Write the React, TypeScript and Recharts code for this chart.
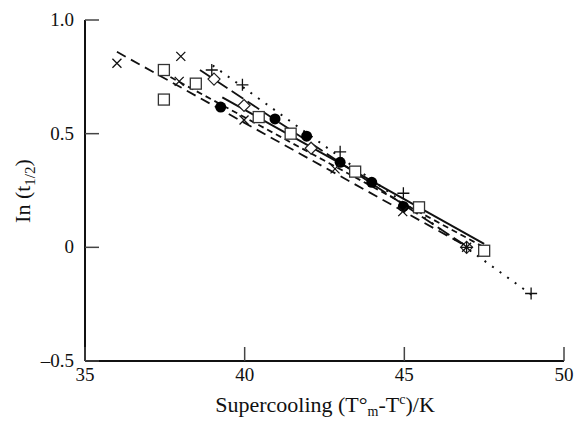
import React from 'react';
import { ComposedChart, Scatter, Line, XAxis, YAxis } from 'recharts';

const xTicks = [35, 40, 45, 50];
const yTicks = [-0.5, 0, 0.5, 1.0];

const crossPts = [
    { x: 36.0, y: 0.81 },
    { x: 38.0, y: 0.84 },
    { x: 37.95, y: 0.73 },
    { x: 39.98, y: 0.56 },
    { x: 42.83, y: 0.345 },
    { x: 44.95, y: 0.157 },
    { x: 46.95, y: 0.0 },
];
const plusPts = [
    { x: 38.97, y: 0.78 },
    { x: 39.93, y: 0.715 },
    { x: 42.99, y: 0.42 },
    { x: 44.97, y: 0.238 },
    { x: 46.95, y: 0.0 },
    { x: 48.97, y: -0.203 },
];
const diamondPts = [
    { x: 39.04, y: 0.74 },
    { x: 39.98, y: 0.624 },
    { x: 42.08, y: 0.436 },
    { x: 46.95, y: 0.0 },
];
const squarePts = [
    { x: 37.47, y: 0.78 },
    { x: 37.47, y: 0.65 },
    { x: 38.47, y: 0.72 },
    { x: 40.44, y: 0.573 },
    { x: 41.44, y: 0.5 },
    { x: 43.46, y: 0.333 },
    { x: 45.46, y: 0.176 },
    { x: 47.5, y: -0.015 },
];
const circlePts = [
    { x: 39.25, y: 0.617 },
    { x: 40.95, y: 0.565 },
    { x: 41.94, y: 0.489 },
    { x: 42.99, y: 0.374 },
    { x: 43.98, y: 0.286 },
    { x: 44.97, y: 0.18 },
];

// fitted lines, two end points each
const crossFit = [{ x: 36.0, y: 0.86 }, { x: 47.0, y: 0.0 }];
const plusFit = [{ x: 39.0, y: 0.8 }, { x: 49.0, y: -0.21 }];
const diamondFit = [{ x: 38.6, y: 0.78 }, { x: 47.0, y: 0.0 }];
const squareFit = [{ x: 37.4, y: 0.77 }, { x: 47.5, y: 0.0 }];
const circleFit = [{ x: 39.3, y: 0.66 }, { x: 47.5, y: 0.015 }];

const W = 575;
const H = 421;
const LEFT = 85;
const TOP = 20;
const BOTTOM = 361;
const FONT = 'Liberation Serif, Times New Roman, serif';

const fmtY = (v: number) => {
    if (v === 0) return '0';
    if (v < 0) return '\u2013' + Math.abs(v).toFixed(1);
    return v.toFixed(1);
};

const XTick = (props: any) => {
    const { x, payload } = props;
    return (
        <g>
            <line x1={x} x2={x} y1={BOTTOM} y2={BOTTOM - 14} stroke="#444" strokeWidth={1.5} />
            <text x={x} y={BOTTOM + 20} textAnchor="middle" style={{ fontFamily: FONT }} fontSize={19} fill="#111">
                {payload.value}
            </text>
        </g>
    );
};

const YTick = (props: any) => {
    const { y, payload } = props;
    return (
        <g>
            <line x1={LEFT} x2={LEFT + 14} y1={y} y2={y} stroke="#444" strokeWidth={1.5} />
            <text x={LEFT - 11} y={y + 6} textAnchor="end" style={{ fontFamily: FONT }} fontSize={19} fill="#111">
                {fmtY(payload.value)}
            </text>
        </g>
    );
};

const CrossMark = (p: any) => (
    <path d={`M${p.cx - 4.5},${p.cy - 4.5}L${p.cx + 4.5},${p.cy + 4.5}M${p.cx - 4.5},${p.cy + 4.5}L${p.cx + 4.5},${p.cy - 4.5}`} stroke="#111" strokeWidth={1.3} fill="none" />
);
const PlusMark = (p: any) => (
    <path d={`M${p.cx - 6},${p.cy}L${p.cx + 6},${p.cy}M${p.cx},${p.cy - 6}L${p.cx},${p.cy + 6}`} stroke="#111" strokeWidth={1.3} fill="none" />
);
const DiamondMark = (p: any) => (
    <path d={`M${p.cx},${p.cy - 6}L${p.cx + 6},${p.cy}L${p.cx},${p.cy + 6}L${p.cx - 6},${p.cy}Z`} stroke="#222" strokeWidth={1.2} fill="#fff" />
);
const SquareMark = (p: any) => (
    <rect x={p.cx - 5.5} y={p.cy - 5.5} width={11} height={11} stroke="#333" strokeWidth={1.3} fill="#fff" />
);
const CircleMark = (p: any) => <circle cx={p.cx} cy={p.cy} r={5.5} fill="#000" />;

export default function App() {
    return (
        <div style={{ position: 'absolute', left: 0, top: 0, width: W, height: H, background: '#fff' }}>
            <ComposedChart width={W} height={H} margin={{ top: TOP, right: 11, bottom: 0, left: 0 }}>
                <XAxis
                    type="number"
                    dataKey="x"
                    domain={[35, 50]}
                    ticks={xTicks}
                    allowDataOverflow
                    height={H - BOTTOM}
                    axisLine={{ stroke: '#111', strokeWidth: 2 }}
                    tickLine={false}
                    tick={<XTick />}
                    interval={0}
                />
                <YAxis
                    type="number"
                    dataKey="y"
                    domain={[-0.5, 1.0]}
                    ticks={yTicks}
                    allowDataOverflow
                    width={LEFT}
                    axisLine={{ stroke: '#111', strokeWidth: 2 }}
                    tickLine={false}
                    tick={<YTick />}
                    interval={0}
                />
                <Line data={crossFit} dataKey="y" stroke="#111" strokeWidth={1.8} strokeDasharray="10 6" dot={false} activeDot={false} isAnimationActive={false} />
                <Line data={plusFit} dataKey="y" stroke="#111" strokeWidth={2} strokeDasharray="2 7.3" dot={false} activeDot={false} isAnimationActive={false} />
                <Line data={diamondFit} dataKey="y" stroke="#111" strokeWidth={1.8} strokeDasharray="14 5" dot={false} activeDot={false} isAnimationActive={false} />
                <Line data={squareFit} dataKey="y" stroke="#111" strokeWidth={1.8} strokeDasharray="6 4" dot={false} activeDot={false} isAnimationActive={false} />
                <Line data={circleFit} dataKey="y" stroke="#111" strokeWidth={2} dot={false} activeDot={false} isAnimationActive={false} />
                <Scatter data={squarePts} dataKey="y" shape={<SquareMark />} isAnimationActive={false} />
                <Scatter data={diamondPts} dataKey="y" shape={<DiamondMark />} isAnimationActive={false} />
                <Scatter data={circlePts} dataKey="y" shape={<CircleMark />} isAnimationActive={false} />
                <Scatter data={crossPts} dataKey="y" shape={<CrossMark />} isAnimationActive={false} />
                <Scatter data={plusPts} dataKey="y" shape={<PlusMark />} isAnimationActive={false} />
            </ComposedChart>
            <svg width={W} height={H} style={{ position: 'absolute', left: 0, top: 0, pointerEvents: 'none' }}>
                <text x={325} y={412} textAnchor="middle" style={{ fontFamily: FONT }} fontSize={22} fill="#111">
                    Supercooling (T°
                    <tspan fontSize={14} dy={4}>m</tspan>
                    <tspan dy={-4}>-T</tspan>
                    <tspan fontSize={14} dy={-8}>c</tspan>
                    <tspan dy={8}>)/K</tspan>
                </text>
                <text transform="translate(30,191) rotate(-90)" textAnchor="middle" style={{ fontFamily: FONT }} fontSize={22} fill="#111">
                    In (t
                    <tspan fontSize={15} dy={5}>1/2</tspan>
                    <tspan dy={-5}>)</tspan>
                </text>
            </svg>
        </div>
    );
}
